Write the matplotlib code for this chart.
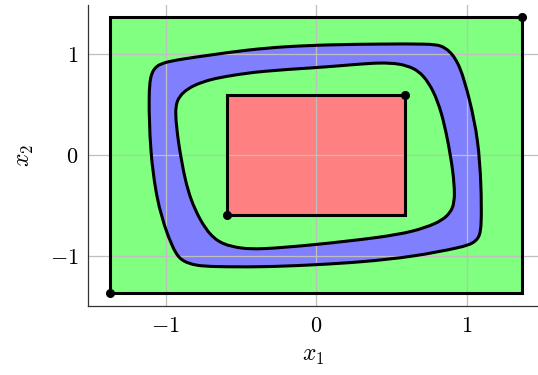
import numpy as np
import matplotlib.pyplot as plt
from matplotlib.path import Path
from matplotlib.patches import PathPatch, Rectangle

plt.rcParams['mathtext.fontset'] = 'cm'

# outer box and inner box (half widths)
outer_box = 1.37
inner_box = 0.59

# outer closed curve (blue region boundary), traced points
outer_x = [-1.112, -1.100, -1.060, -1.000, -0.904, -0.700, -0.461, -0.200, 0.100, 0.425,
           0.757, 0.830, 0.890, 0.957, 1.023, 1.078, 1.098, 1.100, 1.085, 1.040,
           0.979, 0.647, 0.300, -0.018, -0.372, -0.682, -0.800, -0.880, -0.930, -0.992,
           -1.059, -1.103]
outer_y = [0.600, 0.800, 0.885, 0.918, 0.947, 0.990, 1.040, 1.075, 1.092, 1.099,
           1.100, 1.085, 1.030, 0.890, 0.540, 0.150, -0.300, -0.700, -0.820, -0.875,
           -0.910, -1.007, -1.060, -1.089, -1.110, -1.106, -1.095, -1.055, -0.990, -0.775,
           -0.446, 0.050]

# inner closed curve (green region boundary), traced points
inner_x = [-0.937, -0.925, -0.885, -0.815, -0.700, -0.571, -0.372, -0.018, 0.250, 0.425,
           0.558, 0.650, 0.713, 0.780, 0.835, 0.875, 0.910, 0.924, 0.910, 0.868,
           0.802, 0.647, 0.425, -0.018, -0.372, -0.500, -0.620, -0.700, -0.771, -0.830,
           -0.870, -0.915]
inner_y = [0.420, 0.540, 0.620, 0.690, 0.750, 0.785, 0.830, 0.862, 0.895, 0.915,
           0.905, 0.860, 0.790, 0.640, 0.420, 0.150, -0.150, -0.400, -0.530, -0.611,
           -0.677, -0.759, -0.817, -0.891, -0.935, -0.925, -0.885, -0.800, -0.644, -0.450,
           -0.250, 0.116]

GREEN = '#80ff80'
BLUE = '#8080ff'
RED = '#ff8080'


# closed cubic b-spline through the traced points (smooths reading noise)
def smooth_cycle(xs, ys):
    p = np.column_stack([xs, ys])
    n = len(p)
    verts = []
    codes = []
    for i in range(n):
        a, b, c, d = p[i - 1], p[i], p[(i + 1) % n], p[(i + 2) % n]
        b0 = (a + 4 * b + c) / 6
        if i == 0:
            verts.append(b0)
            codes.append(Path.MOVETO)
        verts += [(2 * b + c) / 3, (b + 2 * c) / 3, (b + 4 * c + d) / 6]
        codes += [Path.CURVE4] * 3
    return Path(np.array(verts), codes)


fig = plt.figure(figsize=(5.38, 3.75), dpi=100)
ax = fig.add_axes([88 / 538, 1 - 306 / 375, 1 - 88 / 538, 301 / 375])

outer_path = smooth_cycle(outer_x, outer_y)
inner_path = smooth_cycle(inner_x, inner_y)

ax.add_patch(Rectangle((-outer_box, -outer_box), 2 * outer_box, 2 * outer_box,
                       facecolor=GREEN, edgecolor='none', zorder=1))
ax.add_patch(PathPatch(outer_path, facecolor=BLUE, edgecolor='none', zorder=1))
ax.add_patch(PathPatch(inner_path, facecolor=GREEN, edgecolor='none', zorder=1))
ax.add_patch(Rectangle((-inner_box, -inner_box), 2 * inner_box, 2 * inner_box,
                       facecolor=RED, edgecolor='none', zorder=1))

# outlines on top of grid
ax.add_patch(Rectangle((-outer_box, -outer_box), 2 * outer_box, 2 * outer_box,
                       facecolor='none', edgecolor='black', lw=2.2, zorder=3))
ax.add_patch(PathPatch(outer_path, facecolor='none', edgecolor='black', lw=2.2, zorder=3))
ax.add_patch(PathPatch(inner_path, facecolor='none', edgecolor='black', lw=2.2, zorder=3))
ax.add_patch(Rectangle((-inner_box, -inner_box), 2 * inner_box, 2 * inner_box,
                       facecolor='none', edgecolor='black', lw=2.2, zorder=3))

ax.plot([-outer_box, outer_box], [-outer_box, outer_box], 'o', color='black', ms=5.5, ls='none', zorder=4)
ax.plot([-inner_box, inner_box], [-inner_box, inner_box], 'o', color='black', ms=5.5, ls='none', zorder=4)

ax.set_xlim(-1.515, 1.475)
ax.set_ylim(-1.495, 1.485)
ax.set_xticks([-1, 0, 1])
ax.set_yticks([-1, 0, 1])
ax.set_xticklabels(['$-1$', '$0$', '$1$'], fontsize=16)
ax.set_yticklabels(['$-1$', '$0$', '$1$'], fontsize=16)
ax.tick_params(length=0, pad=7)
ax.grid(True, color='#bfbfbf', lw=0.9)
ax.set_axisbelow('line')

for s in ['top', 'right']:
    ax.spines[s].set_visible(False)
for s in ['left', 'bottom']:
    ax.spines[s].set_linewidth(0.9)
    ax.spines[s].set_color('#333333')

ax.set_xlabel('$x_1$', fontsize=17, labelpad=5)
ax.set_ylabel('$x_2$', fontsize=17, labelpad=10)

fig.savefig('out.png', dpi=100)
